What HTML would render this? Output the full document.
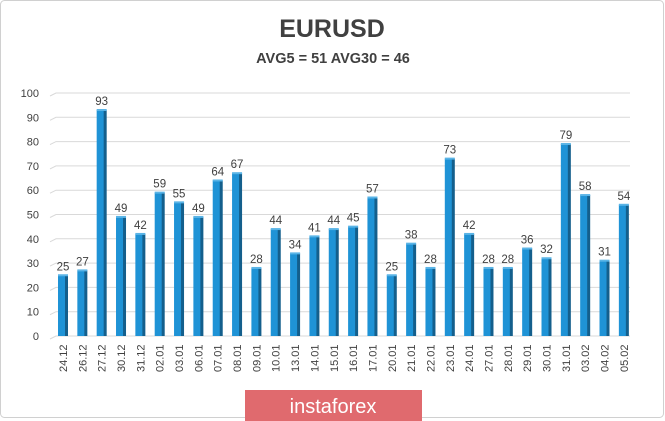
<!DOCTYPE html>
<html><head><style>
body{margin:0;background:#fff;}
svg{display:block;font-family:"Liberation Sans",sans-serif;}
</style></head><body>
<svg width="665" height="421" viewBox="0 0 665 421" xmlns="http://www.w3.org/2000/svg">
<rect x="0.5" y="0.5" width="663" height="417" rx="4" fill="#fff" stroke="#d0d0d0"/>
<text x="332" y="37" text-anchor="middle" font-size="25" font-weight="bold" fill="#404040">EURUSD</text>
<text x="333" y="63" text-anchor="middle" font-size="14.5" font-weight="bold" fill="#404040">AVG5 = 51 AVG30 = 46</text>
<g id="grid" stroke="#d9d9d9" stroke-width="1" fill="none"></g>
<g id="ylab" font-size="11" fill="#404040" text-anchor="end"></g>
<g id="bars"></g>
<g id="xlab" font-size="11" fill="#404040"></g>
<rect x="245" y="390" width="177" height="31" fill="#e06a6e"/>
<text x="333" y="413" text-anchor="middle" font-size="20" fill="#fff">instaforex</text>
</svg>
<script>
const ns="http://www.w3.org/2000/svg";
function el(t,a,p,txt){const e=document.createElementNS(ns,t);for(const k in a)e.setAttribute(k,a[k]);if(txt!==undefined)e.textContent=txt;document.getElementById(p).appendChild(e);return e;}
const y0=336,s=2.43;
for(let v=0;v<=100;v+=10){const y=y0-v*s;
el('path',{d:`M50 ${y+3} L56 ${y} L630 ${y}`},'grid');
el('text',{x:39,y:y+4},'ylab',v);}
const vals=[25,27,93,49,42,59,55,49,64,67,28,44,34,41,44,45,57,25,38,28,73,42,28,28,36,32,79,58,31,54];
const labs=["24.12","26.12","27.12","30.12","31.12","02.01","03.01","06.01","07.01","08.01","09.01","10.01","13.01","14.01","15.01","16.01","17.01","20.01","21.01","22.01","23.01","24.01","27.01","28.01","29.01","30.01","31.01","03.02","04.02","05.02"];
vals.forEach((v,i)=>{const x=58+i*19.34,h=v*s,y=y0-h;
el('rect',{x:x,y:y,width:8,height:h,fill:"#1f93d6"},'bars');
el('rect',{x:x+7,y:y,width:3,height:h,fill:"#145f8c"},'bars');
el('rect',{x:x,y:y-1,width:10,height:2,fill:"#5ab4e6"},'bars');
el('text',{x:x+5,y:y-5,'text-anchor':'middle','font-size':11.5,fill:'#404040'},'bars',v);
el('text',{x:0,y:0,transform:`translate(${x+9},372) rotate(-90)`},'xlab',labs[i]);
});
</script>
</body></html>
